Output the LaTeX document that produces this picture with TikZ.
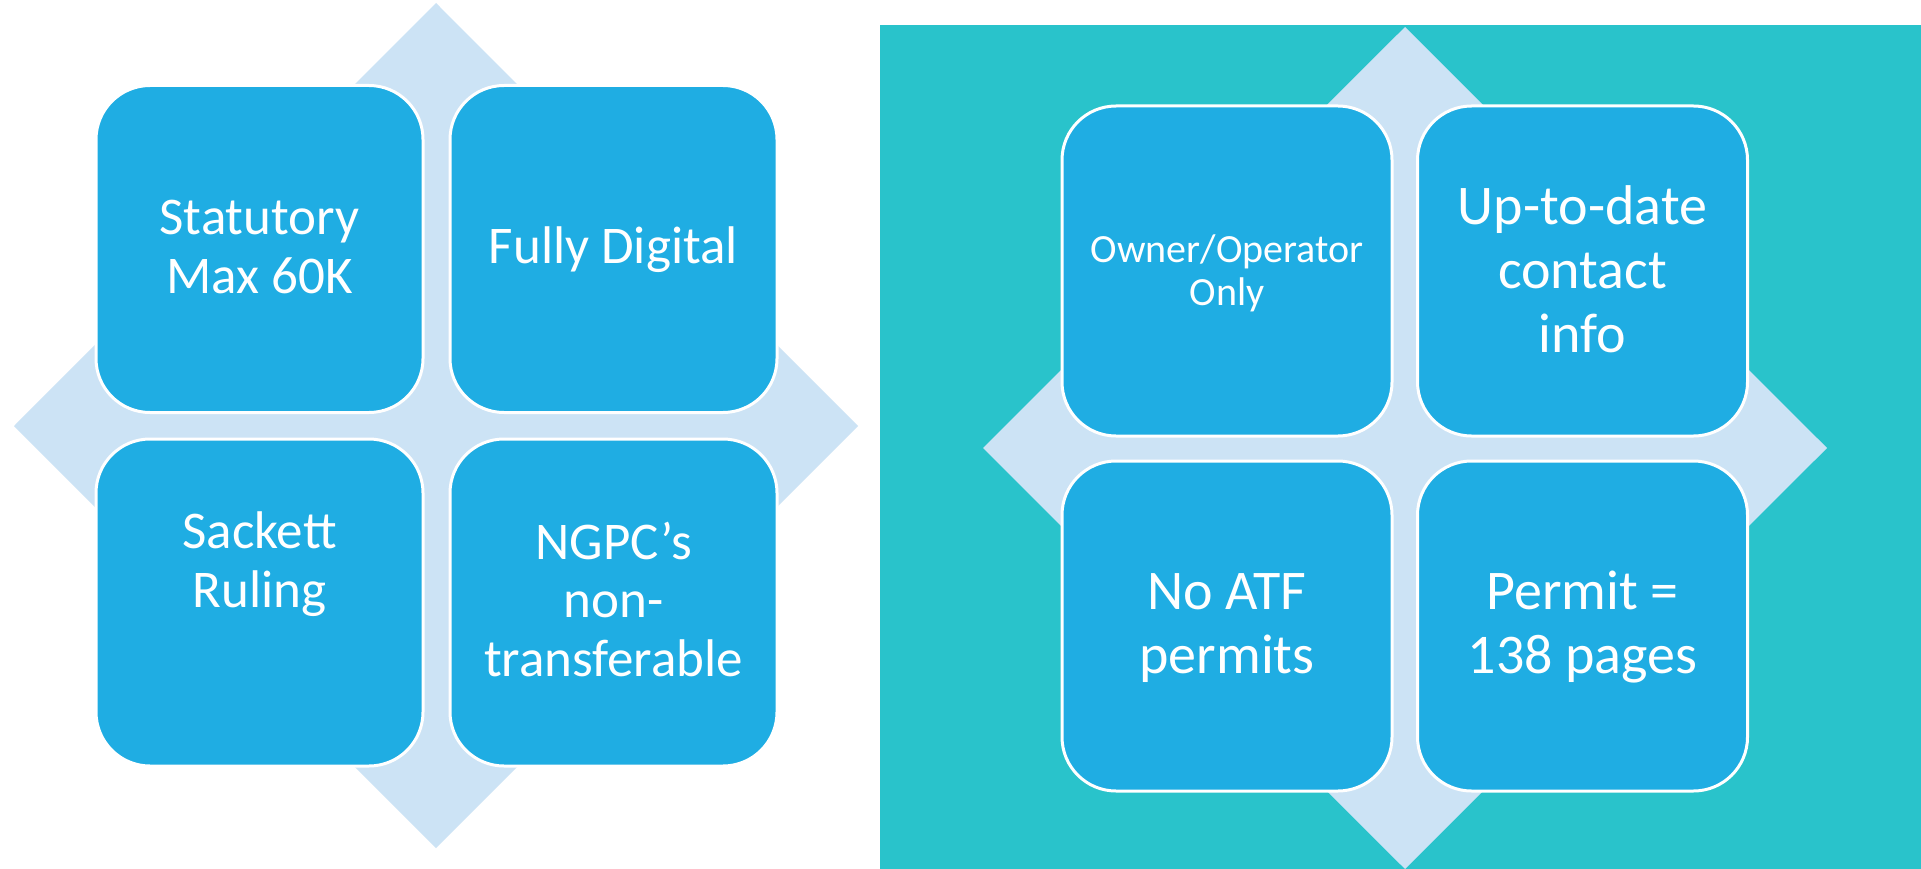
\documentclass[tikz,border=0pt]{standalone}
\usepackage{fontspec}
\setmainfont{Carlito}
\definecolor{boxblue}{HTML}{1FADE3}
\definecolor{diamondblue}{HTML}{CCE3F5}
\definecolor{tealbg}{HTML}{29C3CB}
\begin{document}
\begin{tikzpicture}[x=1pt,y=-1pt,
  tile/.style={rectangle, rounded corners=54pt, fill=boxblue, draw=white, line width=3pt, inner sep=0pt},
  ltile/.style={tile, minimum width=327pt, minimum height=327pt},
  rtile/.style={tile, minimum width=330pt, minimum height=330pt},
  lbl/.style={text=white, align=center, anchor=base, inner sep=0pt},
  lfont/.style={font=\fontsize{53}{58.5}\selectfont},
  rfont/.style={font=\fontsize{56}{64}\selectfont},
  sfont/.style={font=\fontsize{40}{43}\selectfont}]
\useasboundingbox (0,0) rectangle (1921,869);
\fill[white] (0,0) rectangle (1921,869);
% right panel background
\fill[tealbg] (880,25) rectangle (1921,869);
% diamonds
\fill[diamondblue] (436,3) -- (858,426) -- (436,848) -- (14,426) -- cycle;
\fill[diamondblue] (1405,27) -- (1827,448) -- (1405,869) -- (983,448) -- cycle;
% left tiles
\node[ltile] (ltl) at (259.5,249) {};
\node[ltile] (ltr) at (613.5,249) {};
\node[ltile] (lbl) at (259.5,602.5) {};
\node[ltile] (lbr) at (613.5,602.5) {};
% right tiles
\node[rtile] (rtl) at (1227,271) {};
\node[rtile] (rtr) at (1582.5,271) {};
\node[rtile] (rbl) at (1227,626) {};
\node[rtile] (rbr) at (1582.5,626) {};
% left texts (anchor = baseline of last line)
\node[lbl, lfont] (t1) at (259.5,293) {Statutory\\Max 60K};
\node[lbl, lfont] (t2) at (613.5,263) {Fully Digital};
\node[lbl, lfont] (t3) at (259.5,607) {Sackett\\Ruling};
\node[lbl, lfont] (t4) at (613.5,676) {NGPC’s\\non-\\transferable};
% right texts
\node[lbl, sfont] (t5) at (1227,305) {Owner/Operator\\Only};
\node[lbl, rfont] (t6) at (1582.5,352) {Up-to-date\\contact\\info};
\node[lbl, rfont] (t7) at (1227,673) {No ATF\\permits};
\node[lbl, rfont] (t8) at (1582.5,673) {Permit =\\138 pages};
\end{tikzpicture}
\end{document}
